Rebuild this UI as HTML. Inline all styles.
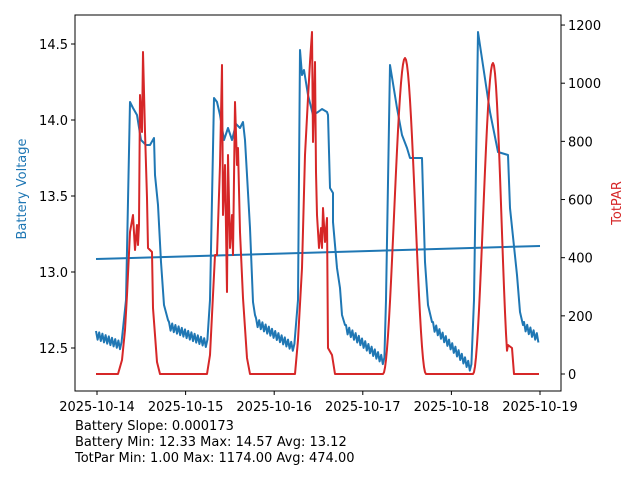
<!DOCTYPE html>
<html><head><meta charset="utf-8"><style>
body{margin:0;background:#fff;width:640px;height:480px;overflow:hidden}
svg text{font-family:"DejaVu Sans","Liberation Sans",sans-serif;font-size:13px}
</style></head><body>
<svg id="s" width="640" height="480" xmlns="http://www.w3.org/2000/svg">
<rect width="640" height="480" fill="#fff"/>
<g id="plot"></g>
<rect x="75" y="15" width="486" height="376" fill="none" stroke="#000" stroke-width="1"/>
<g id="ax"></g>
<text x="26" y="189" fill="#1f77b4" text-anchor="middle" transform="rotate(-90 26 189)">Battery Voltage</text>
<text x="621" y="203" fill="#d62728" text-anchor="middle" transform="rotate(-90 621 203)">TotPAR</text>
<text x="75" y="430">Battery Slope: 0.000173</text>
<text x="75" y="446">Battery Min: 12.33 Max: 14.57 Avg: 13.12</text>
<text x="75" y="462">TotPar Min: 1.00 Max: 1174.00 Avg: 474.00</text>
</svg>
<script>
var NS="http://www.w3.org/2000/svg";
function el(p,t,a,txt){var e=document.createElementNS(NS,t);for(var k in a)e.setAttribute(k,a[k]);if(txt!=null)e.textContent=txt;p.appendChild(e);return e;}
var ax=document.getElementById('ax'),plot=document.getElementById('plot');
[[12.5,348],[13.0,272],[13.5,196],[14.0,120],[14.5,44]].forEach(function(t){
el(ax,'line',{x1:71,x2:75,y1:t[1],y2:t[1],stroke:'#000'});
el(ax,'text',{x:68,y:t[1]+5,'text-anchor':'end'},t[0].toFixed(1));});
for(var v=0;v<=1200;v+=200){var y=374-v*0.2908;
el(ax,'line',{x1:561,x2:565,y1:y,y2:y,stroke:'#000'});
el(ax,'text',{x:568,y:y+5},String(v));}
for(var i=0;i<6;i++){var x=97+88.6*i;
el(ax,'line',{x1:x,x2:x,y1:391,y2:395,stroke:'#000'});
el(ax,'text',{x:x,y:411,'text-anchor':'middle'},'2025-10-'+(14+i));}
function saw(x0,y0,x1,y1){var p=[],n=0;for(var x=x0;x<=x1;x+=1.6){var y=y0+(y1-y0)*(x-x0)/(x1-x0);p.push([x,y+(n%2?8:0)]);n++;}return p;}
function bell(x0,xp,x1,yp){var p=[];for(var x=x0;x<=x1;x+=1){var t;if(x<=xp){t=(x-x0)/(xp-x0);}else{t=(x1-x)/(x1-xp);}var f=(1-Math.cos(Math.PI*t))/2;p.push([x,374-(374-yp)*f]);}return p;}
var B=[];
B=B.concat(saw(96,331,122,342));
B.push([126,300],[130,102],[133,108],[137,115],[141,140],[146,145],[150,145],[154,138],[155,175],[158,205],[161,262],[164,305],[168,320]);
B=B.concat(saw(169,322,208,340));
B.push([210,300],[214,98],[217,102],[220,115],[224,140],[228,128],[232,140],[236,124],[240,128],[243,122],[245,140],[247,175],[250,228],[253,302],[255,315]);
B=B.concat(saw(256,318,296,345));
B.push([298,300],[300,50],[302,75],[304,70],[308,95],[313,115],[318,112],[322,109],[327,112],[328,115],[330,188],[333,193],[333,222],[337,268],[340,288],[342,315],[345,325]);
B=B.concat(saw(346,325,385,358));
B.push([386,300],[390,65],[397,108],[402,135],[407,148],[410,158],[422,158],[425,262],[428,305],[432,322]);
B=B.concat(saw(433,322,472,365));
B.push([474,300],[478,32],[490,112],[498,152],[508,155],[510,208],[517,275],[520,312],[523,325]);
B=B.concat(saw(524,322,539,335));
var R=[[96,374],[118,374],[122,360],[125,330],[127,295],[130,232],[133,215],[135,250],[137,225],[138,245],[139,225],[140,95],[142,132],[143,52],[145,132],[147,198],[148,248],[152,252],[153,308],[157,362],[160,374],[207,374],[210,355],[212,315],[215,255],[217,255],[220,165],[222,65],[223,215],[225,165],[227,292],[228,155],[230,248],[232,215],[233,255],[235,102],[237,165],[238,148],[240,232],[243,298],[247,358],[250,374],[295,374],[298,340],[302,268],[305,155],[308,98],[310,62],[312,32],[313,142],[315,62],[316,172],[317,215],[319,248],[321,228],[322,248],[323,208],[325,242],[327,218],[328,348],[332,355],[335,374]];
R=R.concat(bell(383,405,426,58));
R=R.concat(bell(473,493,510,63).filter(function(p){return p[0]<508;}));
R.push([508,345],[512,348],[514,374],[539,374]);
function pts(a){return a.map(function(p){return p[0].toFixed(1)+','+p[1].toFixed(1)}).join(' ');}
el(plot,'polyline',{points:pts(B),fill:'none',stroke:'#1f77b4','stroke-width':2,'stroke-linejoin':'round'});
el(plot,'line',{x1:96,y1:259,x2:540,y2:246,stroke:'#1f77b4','stroke-width':2});
el(plot,'polyline',{points:pts(R),fill:'none',stroke:'#d62728','stroke-width':2,'stroke-linejoin':'round'});
</script>
</body></html>
